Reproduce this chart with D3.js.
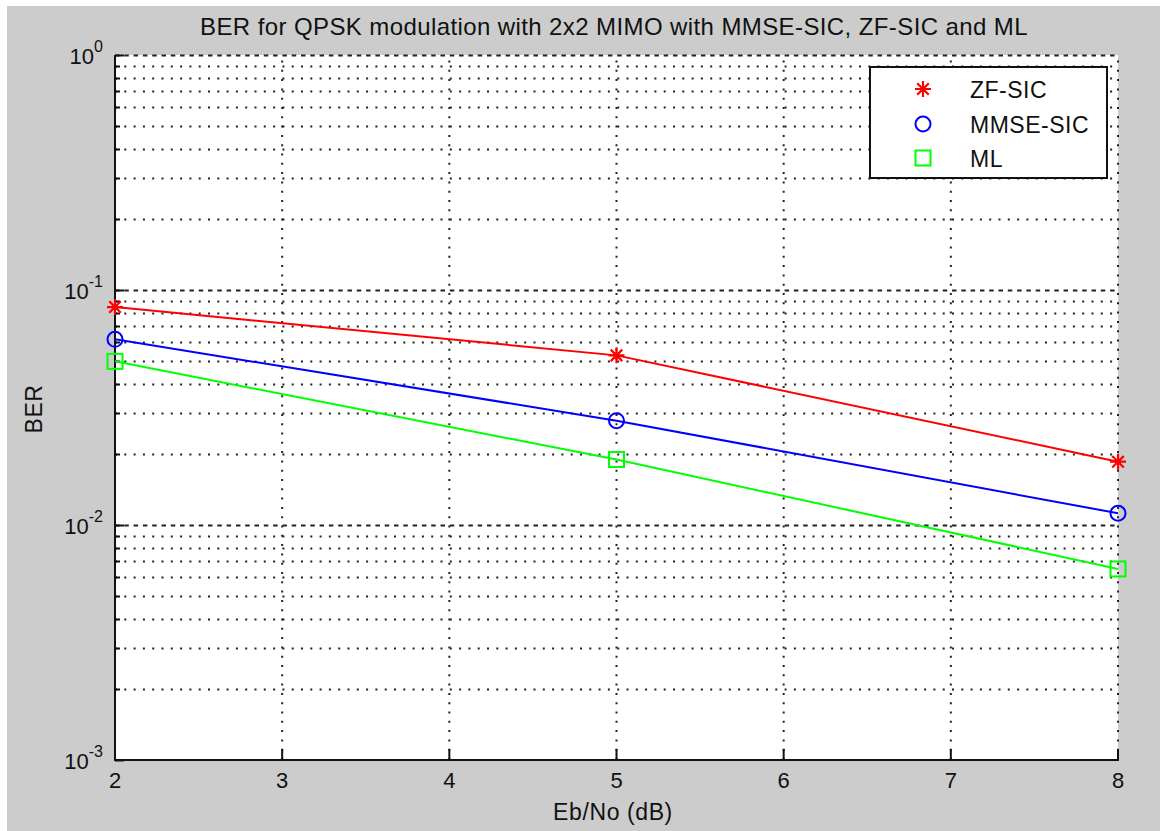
<!DOCTYPE html>
<html>
<head>
<meta charset="utf-8">
<script src="https://cdn.jsdelivr.net/npm/d3@7"></script>
<style>
  html, body { margin: 0; padding: 0; background: #fff; }
  svg { display: block; }
  text { font-family: "Liberation Sans", Arial, sans-serif; fill: #111; }
</style>
</head>
<body>
<svg id="chart" width="1160" height="831"></svg>
<script>
// Eb/No points (dB)
const snrDb = [2, 5, 8];
// Bit error rates per receiver
const berZfSic   = [0.0846, 0.0527, 0.0186];
const berMmseSic = [0.0617, 0.0278, 0.01122];
const berMl      = [0.0497, 0.0190, 0.0065];

const seriesNames  = ["ZF-SIC", "MMSE-SIC", "ML"];
const seriesColors = ["#ff0000", "#0000ff", "#00ff00"];
const seriesMarks  = ["star", "circle", "square"];

const xTicks = [2, 3, 4, 5, 6, 7, 8];
const yDecades = [-3, -2, -1, 0];

const titleText = "BER for QPSK modulation with 2x2 MIMO with MMSE-SIC, ZF-SIC and ML";
const xLabel = "Eb/No (dB)";
const yLabel = "BER";

const svg = d3.select("#chart");
const W = 1160, H = 831;
const plot = { left: 115, right: 1118, top: 55, bottom: 760 };

// figure background with thin light margin on top and left
svg.append("rect").attr("x", 0).attr("y", 0).attr("width", W).attr("height", H).attr("fill", "#ffffff");
svg.append("rect").attr("x", 7).attr("y", 6).attr("width", W - 7).attr("height", H - 6).attr("fill", "#cccccc");

const x = d3.scaleLinear().domain([2, 8]).range([plot.left, plot.right]);
const y = d3.scaleLog().domain([1e-3, 1]).range([plot.bottom, plot.top]);

// axes area
svg.append("rect")
  .attr("x", plot.left).attr("y", plot.top)
  .attr("width", plot.right - plot.left).attr("height", plot.bottom - plot.top)
  .attr("fill", "#ffffff");

const grid = svg.append("g");

// minor horizontal grid (2..9 within each decade)
const minorVals = [];
for (let e = -3; e < 0; e++) {
  for (let m = 2; m <= 9; m++) minorVals.push(m * Math.pow(10, e));
}
grid.selectAll("line.minor").data(minorVals).enter().append("line")
  .attr("x1", plot.left).attr("x2", plot.right)
  .attr("y1", d => Math.round(y(d)) + 0.5).attr("y2", d => Math.round(y(d)) + 0.5)
  .attr("stroke", "#222").attr("stroke-width", 2)
  .attr("stroke-dasharray", "2,7.3");

// decade grid lines
grid.selectAll("line.major").data(yDecades.slice(1)).enter().append("line")
  .attr("x1", plot.left).attr("x2", plot.right)
  .attr("y1", d => Math.round(y(Math.pow(10, d))) + 0.5)
  .attr("y2", d => Math.round(y(Math.pow(10, d))) + 0.5)
  .attr("stroke", "#222").attr("stroke-width", 2)
  .attr("stroke-dasharray", "4.5,4.8");

// vertical grid
grid.selectAll("line.vx").data(xTicks.slice(1)).enter().append("line")
  .attr("x1", d => x(d)).attr("x2", d => x(d))
  .attr("y1", plot.bottom).attr("y2", plot.top)
  .attr("stroke", "#222").attr("stroke-width", 2)
  .attr("stroke-dasharray", "2,7.3");

// left axis with inward ticks
const yAxisG = svg.append("g");
yAxisG.append("line")
  .attr("x1", plot.left).attr("x2", plot.left)
  .attr("y1", plot.top).attr("y2", plot.bottom + 1)
  .attr("stroke", "#111").attr("stroke-width", 2);
yAxisG.selectAll("line.mt").data(minorVals).enter().append("line")
  .attr("x1", plot.left).attr("x2", plot.left + 5)
  .attr("y1", d => Math.round(y(d)) + 0.5).attr("y2", d => Math.round(y(d)) + 0.5)
  .attr("stroke", "#111").attr("stroke-width", 2);
yAxisG.selectAll("line.Mt").data(yDecades).enter().append("line")
  .attr("x1", plot.left).attr("x2", plot.left + 9)
  .attr("y1", d => Math.round(y(Math.pow(10, d))) + 0.5)
  .attr("y2", d => Math.round(y(Math.pow(10, d))) + 0.5)
  .attr("stroke", "#111").attr("stroke-width", 2);

// decade labels 10^n
const yLab = yAxisG.selectAll("text.yl").data(yDecades).enter().append("text")
  .attr("x", plot.left - 12)
  .attr("y", d => y(Math.pow(10, d)) + 9)
  .attr("text-anchor", "end")
  .style("font-size", "22px");
yLab.append("tspan").text("10");
yLab.append("tspan").attr("dy", -12).style("font-size", "16px").text(d => String(d));

// bottom axis with upward ticks
const xAxisG = svg.append("g");
xAxisG.append("line")
  .attr("x1", plot.left - 1).attr("x2", plot.right + 1)
  .attr("y1", plot.bottom).attr("y2", plot.bottom)
  .attr("stroke", "#111").attr("stroke-width", 2);
xAxisG.selectAll("line.xt").data(xTicks).enter().append("line")
  .attr("x1", d => x(d)).attr("x2", d => x(d))
  .attr("y1", plot.bottom).attr("y2", plot.bottom - 11)
  .attr("stroke", "#111").attr("stroke-width", 2);
xAxisG.selectAll("text.xl").data(xTicks).enter().append("text")
  .attr("x", d => x(d)).attr("y", 788)
  .attr("text-anchor", "middle")
  .style("font-size", "22px")
  .text(d => d);

// titles
svg.append("text").attr("x", 614).attr("y", 35)
  .attr("text-anchor", "middle").style("font-size", "24px")
  .style("letter-spacing", "0.4px").text(titleText);
svg.append("text").attr("x", 613).attr("y", 820)
  .attr("text-anchor", "middle").style("font-size", "23px")
  .style("letter-spacing", "0.6px").text(xLabel);
svg.append("text").attr("transform", "translate(42,409) rotate(-90)")
  .attr("text-anchor", "middle").style("font-size", "23px")
  .style("letter-spacing", "0.6px").text(yLabel);

// markers
function drawMarker(g, kind, cx, cy, color) {
  if (kind === "star") {
    const r = 8;
    const d = r * 0.72;
    const p = `M${cx - r},${cy}L${cx + r},${cy}M${cx},${cy - r}L${cx},${cy + r}` +
              `M${cx - d},${cy - d}L${cx + d},${cy + d}M${cx - d},${cy + d}L${cx + d},${cy - d}`;
    g.append("path").attr("d", p).attr("stroke", color).attr("stroke-width", 2.2).attr("fill", "none");
    g.append("circle").attr("cx", cx).attr("cy", cy).attr("r", 2.5).attr("fill", color);
  } else if (kind === "circle") {
    g.append("circle").attr("cx", cx).attr("cy", cy).attr("r", 7.5)
      .attr("stroke", color).attr("stroke-width", 2).attr("fill", "none");
  } else {
    g.append("rect").attr("x", cx - 7.5).attr("y", cy - 7.5).attr("width", 15).attr("height", 15)
      .attr("stroke", color).attr("stroke-width", 2).attr("fill", "none");
  }
}

const allSeries = [berZfSic, berMmseSic, berMl];
const line = d3.line().x(d => x(d[0])).y(d => y(d[1]));
allSeries.forEach((vals, i) => {
  const pts = snrDb.map((s, j) => [s, vals[j]]);
  const g = svg.append("g");
  g.append("path").attr("d", line(pts)).attr("fill", "none")
    .attr("stroke", seriesColors[i]).attr("stroke-width", 2);
  pts.forEach(p => drawMarker(g, seriesMarks[i], x(p[0]), y(p[1]), seriesColors[i]));
});

// legend
const lg = svg.append("g");
lg.append("rect").attr("x", 870).attr("y", 67).attr("width", 237).attr("height", 111)
  .attr("fill", "#ffffff").attr("stroke", "#111").attr("stroke-width", 2);
const rowY = [89, 124, 158];
seriesNames.forEach((name, i) => {
  drawMarker(lg, seriesMarks[i], 923, rowY[i], seriesColors[i]);
  lg.append("text").attr("x", 970).attr("y", rowY[i] + 9)
    .style("font-size", "23px").style("letter-spacing", "0.5px").text(name);
});
</script>
</body>
</html>
